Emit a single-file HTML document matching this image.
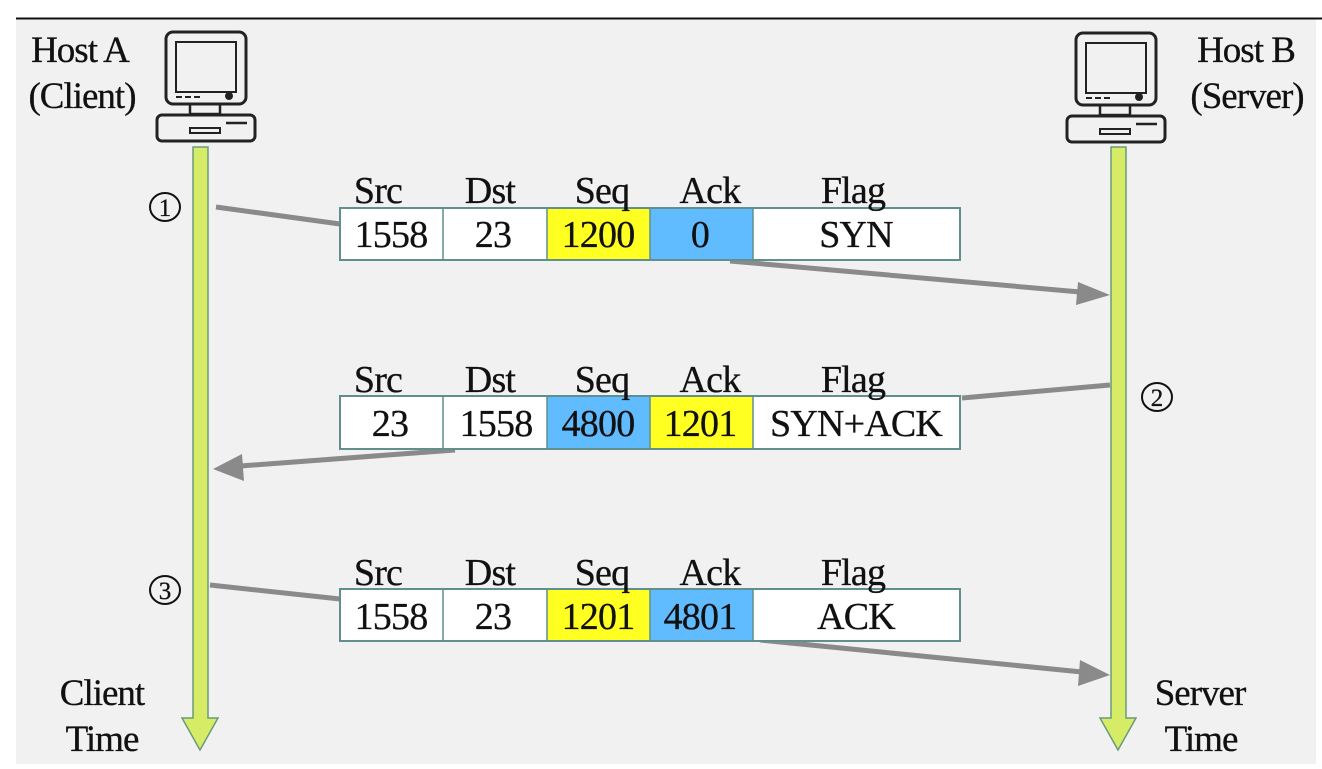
<!DOCTYPE html>
<html><head><style>
body{margin:0;width:1322px;height:764px;background:#fff;overflow:hidden}
svg text{font-family:"Liberation Serif","Times New Roman",serif;fill:#111;stroke:#111;stroke-width:0.3}
</style></head><body>
<svg width="1322" height="764" xmlns="http://www.w3.org/2000/svg">
<rect x="16" y="18" width="1300" height="746" fill="#f1f1f1"/>
<line x1="16" y1="18.5" x2="1322" y2="18.5" stroke="#111" stroke-width="2"/>
<g fill="none" stroke="#222" stroke-width="3">
 <rect x="166" y="32" width="80" height="72" rx="7"/>
 <rect x="176" y="42" width="60" height="50" stroke-width="2"/>
 <rect x="190" y="104" width="30" height="10" stroke-width="2.5"/>
 <rect x="157" y="115" width="98" height="26" rx="5"/>
 <rect x="190" y="128" width="30" height="5" stroke-width="2"/>
 <line x1="226" y1="123" x2="247" y2="123" stroke-width="2.5"/>
 <line x1="176" y1="97" x2="200" y2="97" stroke-width="2" stroke-dasharray="6,3"/>
 <circle cx="229" cy="96" r="2.5" fill="#222"/>
 <rect x="1076" y="33" width="80" height="72" rx="7"/>
 <rect x="1086" y="43" width="60" height="50" stroke-width="2"/>
 <rect x="1100" y="105" width="30" height="10" stroke-width="2.5"/>
 <rect x="1067" y="116" width="98" height="26" rx="5"/>
 <rect x="1100" y="129" width="30" height="5" stroke-width="2"/>
 <line x1="1136" y1="124" x2="1157" y2="124" stroke-width="2.5"/>
 <line x1="1086" y1="98" x2="1110" y2="98" stroke-width="2" stroke-dasharray="6,3"/>
 <circle cx="1139" cy="97" r="2.5" fill="#222"/>
</g>
<g fill="#d7ec66" stroke="#6a9a7a" stroke-width="1.5">
 <polygon points="193,147 208,147 208,718 218,718 200,750 182,718 193,718"/>
 <polygon points="1111,147 1126,147 1126,718 1136,718 1118,750 1100,718 1111,718"/>
</g>
<g stroke="#8a8a8a" stroke-width="5" fill="#8a8a8a">
 <line x1="216" y1="207" x2="340" y2="224"/>
 <line x1="730" y1="261" x2="1080" y2="292"/>
 <polygon points="1110,295 1078,282 1076,305" stroke="none"/>
 <line x1="1110" y1="385" x2="962" y2="398"/>
 <line x1="455" y1="450" x2="240" y2="466"/>
 <polygon points="213,469 242,454 244,481" stroke="none"/>
 <line x1="210" y1="585" x2="340" y2="599"/>
 <line x1="760" y1="640" x2="1082" y2="672"/>
 <polygon points="1110,675 1080,660 1078,686" stroke="none"/>
</g>
<g font-size="38" letter-spacing="-0.8">
 <g>
  <rect x="340" y="208" width="620" height="52" fill="#fff" stroke="#5f8f8f" stroke-width="2"/>
  <rect x="547" y="209" width="103" height="50" fill="#ffff22"/>
  <rect x="650" y="209" width="103" height="50" fill="#61bbff"/>
  <g stroke="#5f8f8f" stroke-width="1.5"><line x1="443" y1="208" x2="443" y2="260"/><line x1="547" y1="208" x2="547" y2="260"/><line x1="650" y1="208" x2="650" y2="260"/><line x1="753" y1="208" x2="753" y2="260"/></g>
  <g text-anchor="middle"><text x="378" y="203">Src</text><text x="490" y="203">Dst</text><text x="602" y="203">Seq</text><text x="710" y="203">Ack</text><text x="853" y="203">Flag</text>
  <text x="391" y="247">1558</text><text x="493" y="247">23</text><text x="598" y="247">1200</text><text x="700" y="247">0</text><text x="856" y="247">SYN</text></g>
 </g>
 <g>
  <rect x="340" y="396" width="620" height="53" fill="#fff" stroke="#5f8f8f" stroke-width="2"/>
  <rect x="547" y="397" width="103" height="51" fill="#61bbff"/>
  <rect x="650" y="397" width="103" height="51" fill="#ffff22"/>
  <g stroke="#5f8f8f" stroke-width="1.5"><line x1="443" y1="396" x2="443" y2="449"/><line x1="547" y1="396" x2="547" y2="449"/><line x1="650" y1="396" x2="650" y2="449"/><line x1="753" y1="396" x2="753" y2="449"/></g>
  <g text-anchor="middle"><text x="378" y="392">Src</text><text x="490" y="392">Dst</text><text x="602" y="392">Seq</text><text x="710" y="392">Ack</text><text x="853" y="392">Flag</text>
  <text x="390" y="436">23</text><text x="496" y="436">1558</text><text x="598" y="436">4800</text><text x="700" y="436">1201</text><text x="856" y="436">SYN+ACK</text></g>
 </g>
 <g>
  <rect x="340" y="589" width="620" height="52" fill="#fff" stroke="#5f8f8f" stroke-width="2"/>
  <rect x="547" y="590" width="103" height="50" fill="#ffff22"/>
  <rect x="650" y="590" width="103" height="50" fill="#61bbff"/>
  <g stroke="#5f8f8f" stroke-width="1.5"><line x1="443" y1="589" x2="443" y2="641"/><line x1="547" y1="589" x2="547" y2="641"/><line x1="650" y1="589" x2="650" y2="641"/><line x1="753" y1="589" x2="753" y2="641"/></g>
  <g text-anchor="middle"><text x="378" y="585">Src</text><text x="490" y="585">Dst</text><text x="602" y="585">Seq</text><text x="710" y="585">Ack</text><text x="853" y="585">Flag</text>
  <text x="391" y="629">1558</text><text x="493" y="629">23</text><text x="598" y="629">1201</text><text x="700" y="629">4801</text><text x="856" y="629">ACK</text></g>
 </g>
</g>
<g font-size="37" letter-spacing="-1" text-anchor="middle">
 <text x="80" y="62">Host A</text><text x="82" y="108">(Client)</text>
 <text x="1246" y="62">Host B</text><text x="1247" y="108">(Server)</text>
 <text x="102" y="705">Client</text><text x="102" y="751">Time</text>
 <text x="1200" y="705">Server</text><text x="1201" y="751">Time</text>
</g>
<g fill="none" stroke="#111" stroke-width="2">
 <ellipse cx="165" cy="207" rx="15" ry="14"/>
 <ellipse cx="1157" cy="397" rx="15" ry="14"/>
 <ellipse cx="165" cy="590" rx="15" ry="14"/>
</g>
<g font-size="25" text-anchor="middle" stroke-width="0">
 <text x="165" y="216">1</text>
 <text x="1157" y="406">2</text>
 <text x="165" y="599">3</text>
</g>
</svg>
</body></html>
